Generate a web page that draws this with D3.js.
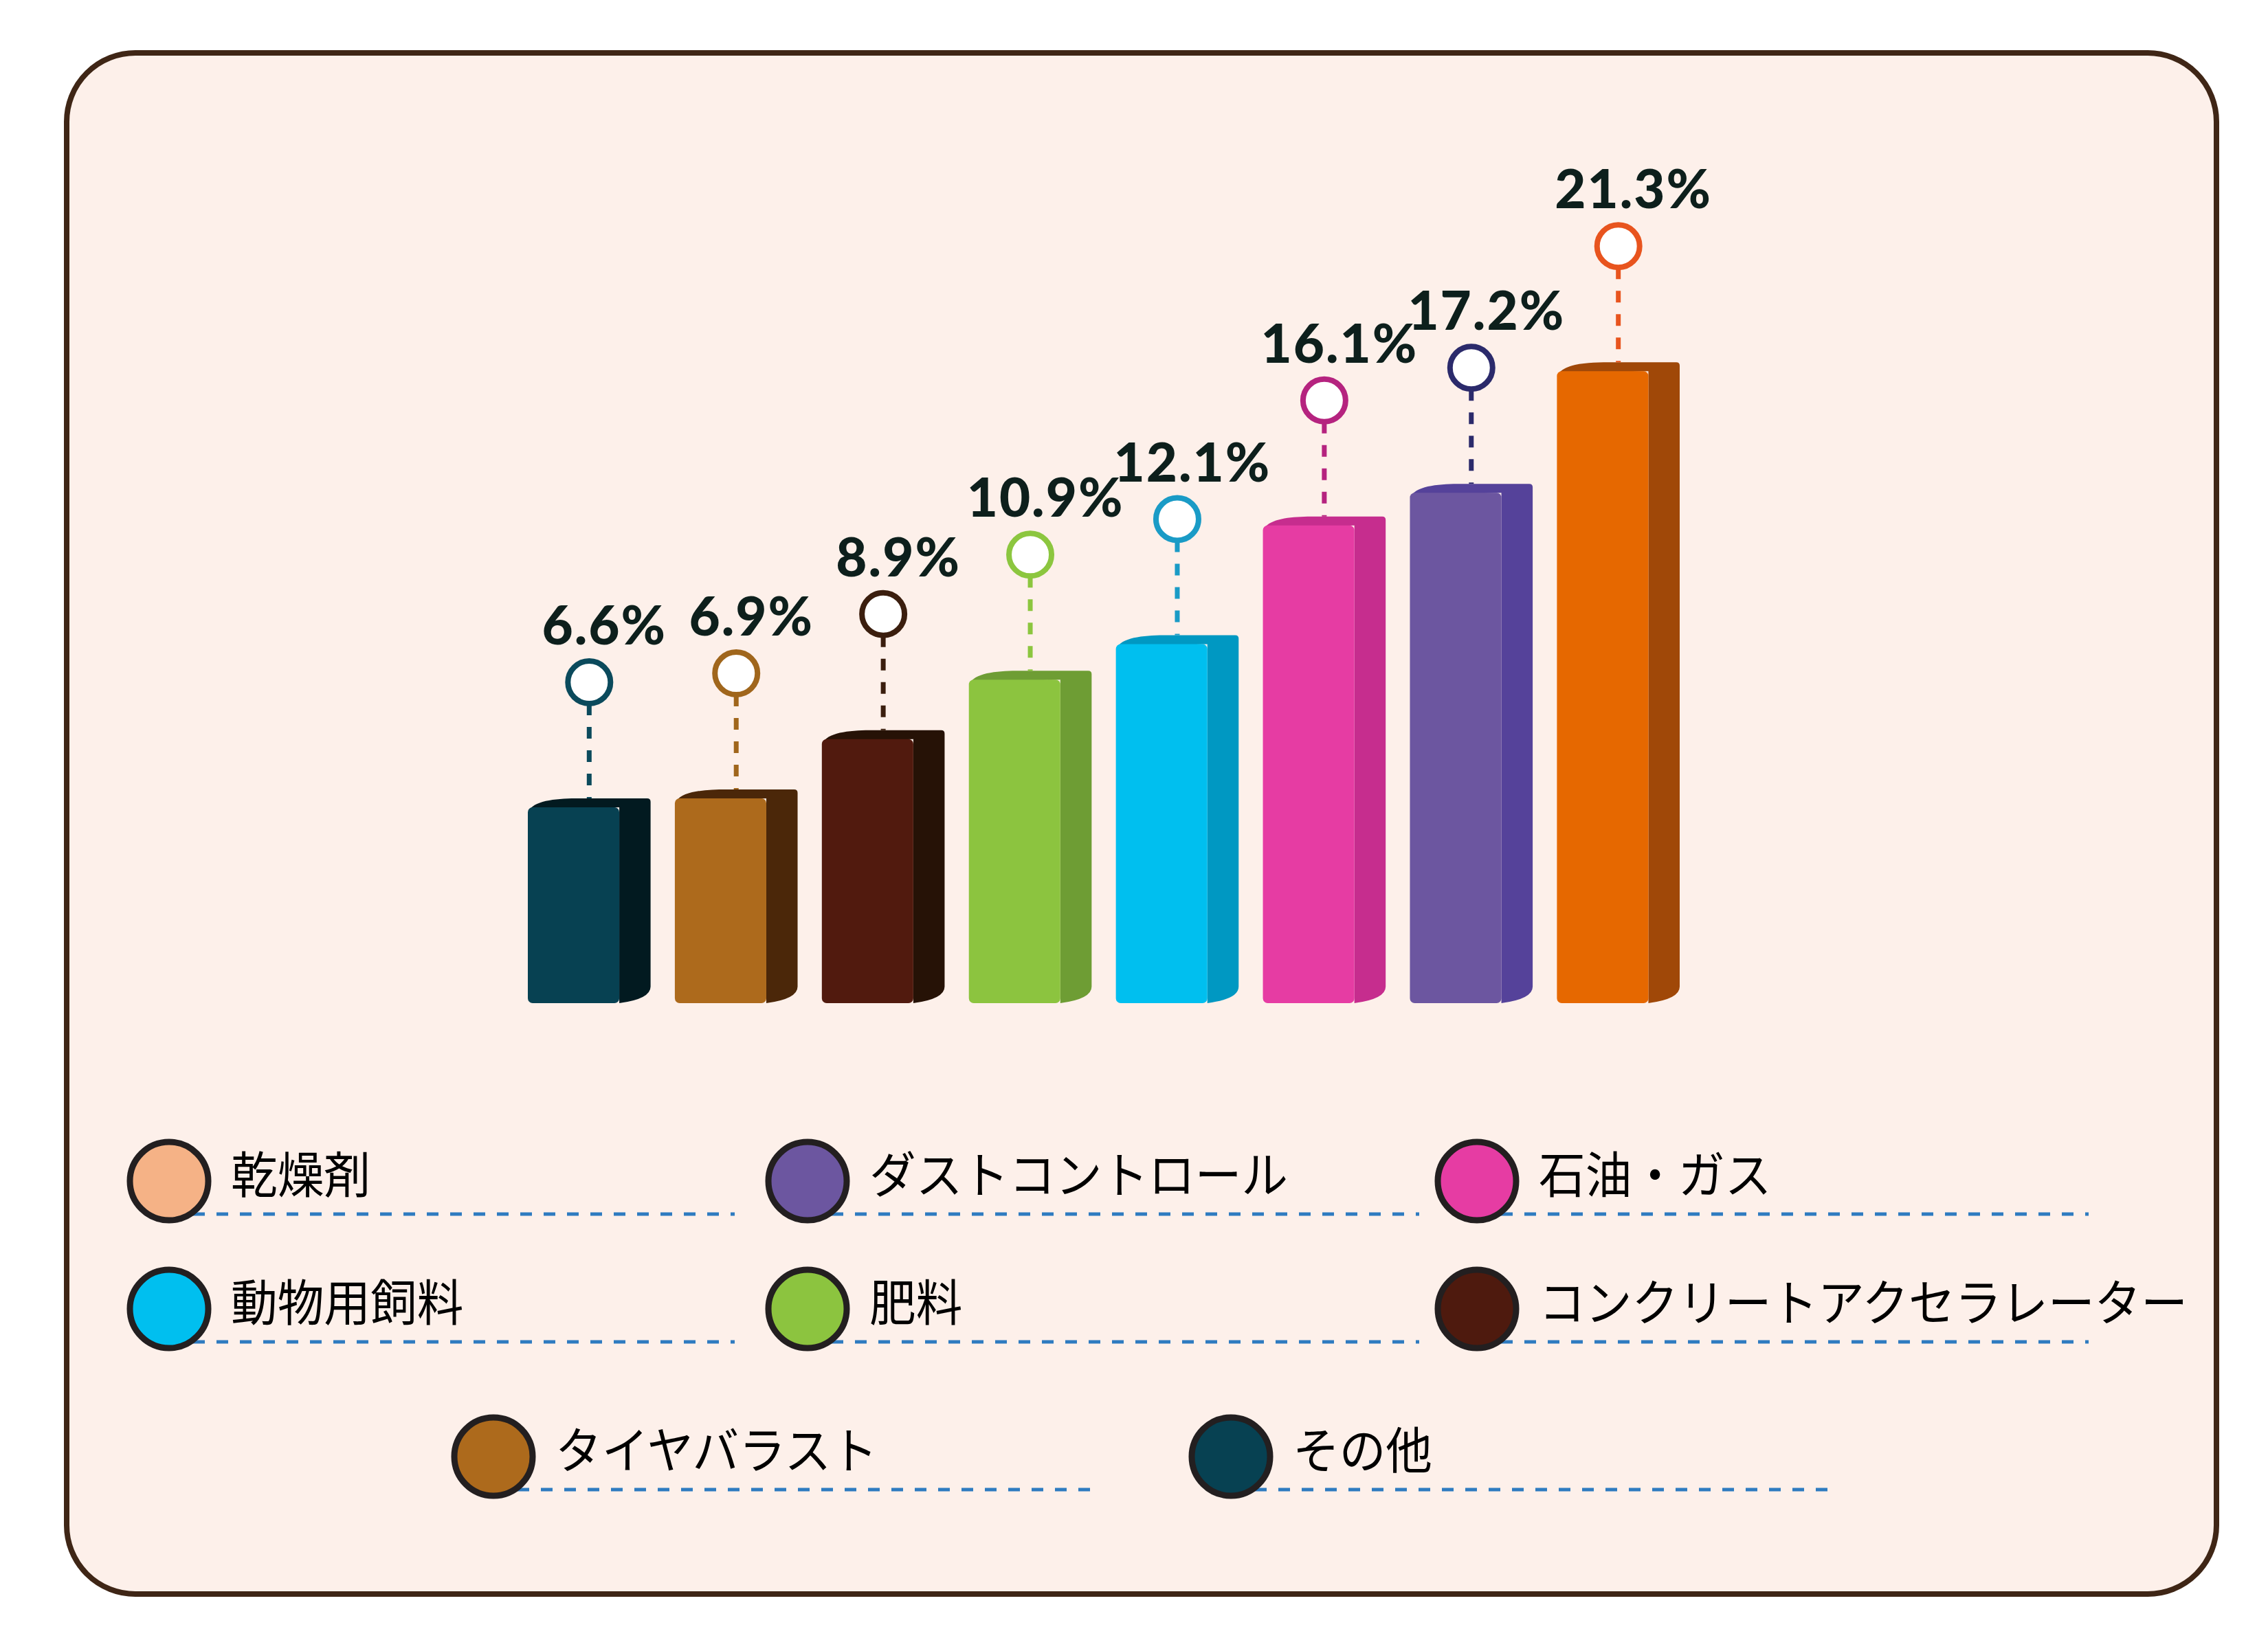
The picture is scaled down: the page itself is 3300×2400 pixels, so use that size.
<!DOCTYPE html>
<html>
<head>
  <meta charset="utf-8">
  <title>用途別シェア</title>
  <script src="https://d3js.org/d3.v7.min.js"></script>
  <style>
    html, body { margin: 0; padding: 0; background: #ffffff; }
    svg { display: block; }
  </style>
</head>
<body>
<script>
  // bar data, left to right
  var categories = ["その他", "タイヤバラスト", "コンクリートアクセラレーター", "肥料",
                    "動物用飼料", "石油・ガス", "ダストコントロール", "乾燥剤"];
  var values = [6.6, 6.9, 8.9, 10.9, 12.1, 16.1, 17.2, 21.3];
  var frontColors = ["#074152", "#ad6a1c", "#511a0e", "#8cc43f", "#00bfef", "#e63ca3", "#6c56a0", "#e66800"];
  var sideColors  = ["#021a20", "#4b2709", "#261206", "#6e9d34", "#0098c2", "#c62d8e", "#55429a", "#a04808"];
  var markerColors = ["#0b4a5c", "#a0661c", "#3b1e0e", "#8cc63f", "#1a9bc6", "#b5237f", "#2b2a6b", "#e8541e"];

  // legend, in reading order
  var legendLabels = ["乾燥剤", "ダストコントロール", "石油・ガス",
                      "動物用飼料", "肥料", "コンクリートアクセラレーター",
                      "タイヤバラスト", "その他"];
  var legendColors = ["#f5b286", "#6c56a0", "#e63ca3",
                      "#00bfef", "#8cc43f", "#4e1a0e",
                      "#ad6a1c", "#074152"];

  var W = 3300, H = 2400;
  var svg = d3.select(document.body).append("svg")
    .attr("width", W).attr("height", H);

  // panel
  svg.append("rect")
    .attr("x", 97).attr("y", 77)
    .attr("width", 3128).attr("height", 2243)
    .attr("rx", 100).attr("ry", 100)
    .attr("fill", "#fdf0ea")
    .attr("stroke", "#3f2616")
    .attr("stroke-width", 8);

  // scales
  var baseY = 1460;
  var x = d3.scaleBand()
    .domain(categories)
    .range([768, 2444])
    .paddingInner(0.165)
    .paddingOuter(0);
  var y = d3.scaleLinear()
    .domain([0, 22])
    .range([baseY, baseY - 950]);

  var frontW = x.bandwidth() * 0.745;
  var lid = 13;

  var rows = categories.map(function (c, i) {
    return { cat: c, v: values[i], front: frontColors[i], side: sideColors[i], mark: markerColors[i] };
  });

  var bars = svg.append("g").selectAll("g.bar")
    .data(rows)
    .enter().append("g").attr("class", "bar");

  // lid + side face
  bars.append("path")
    .attr("fill", function (d) { return d.side; })
    .attr("d", function (d) {
      var fx = x(d.cat), fr = fx + frontW, sr = fx + x.bandwidth();
      var ft = y(d.v), bt = ft - lid, fb = baseY;
      var p = d3.path();
      p.moveTo(fx + 2, ft + 4);
      p.bezierCurveTo(fx + 12, bt + 2, fx + 45, bt, fx + 75, bt);
      p.lineTo(sr - 5, bt);
      p.quadraticCurveTo(sr, bt, sr, bt + 5);
      p.lineTo(sr, fb - 24);
      p.quadraticCurveTo(sr, fb - 6, fr, fb);
      p.lineTo(fr, ft);
      p.closePath();
      return p.toString();
    });

  // front face
  bars.append("rect")
    .attr("x", function (d) { return x(d.cat); })
    .attr("y", function (d) { return y(d.v); })
    .attr("width", frontW)
    .attr("height", function (d) { return baseY - y(d.v); })
    .attr("rx", 7).attr("ry", 7)
    .attr("fill", function (d) { return d.front; });

  // markers
  var mr = 31;
  var markY = function (d) { return y(d.v) - 182; };
  var markX = function (d) { return x(d.cat) + x.bandwidth() / 2; };

  bars.append("line")
    .attr("x1", markX).attr("x2", markX)
    .attr("y1", function (d) { return markY(d) + mr; })
    .attr("y2", function (d) { return y(d.v) - lid; })
    .attr("stroke", function (d) { return d.mark; })
    .attr("stroke-width", 7)
    .attr("stroke-dasharray", "17 17");

  bars.append("circle")
    .attr("cx", markX).attr("cy", markY)
    .attr("r", mr)
    .attr("fill", "#ffffff")
    .attr("stroke", function (d) { return d.mark; })
    .attr("stroke-width", 8);

  bars.append("text")
    .attr("x", function (d) { return markX(d) + 22; })
    .attr("y", function (d) { return markY(d) - 55; })
    .attr("text-anchor", "middle")
    .attr("font-family", "Lato, 'Noto Sans', sans-serif")
    .attr("font-weight", 900)
    .attr("font-size", 78)
    .attr("letter-spacing", 2)
    .attr("fill", "#0d1f1c")
    .text(function (d) { return d.v.toFixed(1) + "%"; });

  // legend layout: rows of centre points
  var legendRows = [
    { cy: 1719, xs: [246, 1175, 2149], ends: [823, 890, 890] },
    { cy: 1905, xs: [246, 1175, 2149], ends: [823, 890, 890] },
    { cy: 2120, xs: [718, 1791], ends: [880, 885] }
  ];
  var legendPos = [];
  legendRows.forEach(function (r) {
    r.xs.forEach(function (cx, j) { legendPos.push({ cx: cx, cy: r.cy, end: r.ends[j] }); });
  });

  var items = svg.append("g").selectAll("g.item")
    .data(legendLabels.map(function (l, i) {
      return { label: l, color: legendColors[i], pos: legendPos[i] };
    }))
    .enter().append("g").attr("class", "item")
    .attr("transform", function (d) { return "translate(" + d.pos.cx + "," + d.pos.cy + ")"; });

  items.append("line")
    .attr("x1", 35).attr("x2", function (d) { return d.pos.end; })
    .attr("y1", 48).attr("y2", 48)
    .attr("stroke", "#2e7bc0")
    .attr("stroke-width", 5)
    .attr("stroke-dasharray", "17 17");

  items.append("circle")
    .attr("r", 57)
    .attr("fill", function (d) { return d.color; })
    .attr("stroke", "#231f20")
    .attr("stroke-width", 9);

  // slightly condensed legend type
  items.append("text")
    .attr("transform", "translate(90,17) scale(0.94,1)")
    .attr("font-family", "'Noto Sans CJK JP', sans-serif")
    .attr("font-size", 72)
    .attr("fill", "#000000")
    .text(function (d) { return d.label; });
</script>
</body>
</html>
